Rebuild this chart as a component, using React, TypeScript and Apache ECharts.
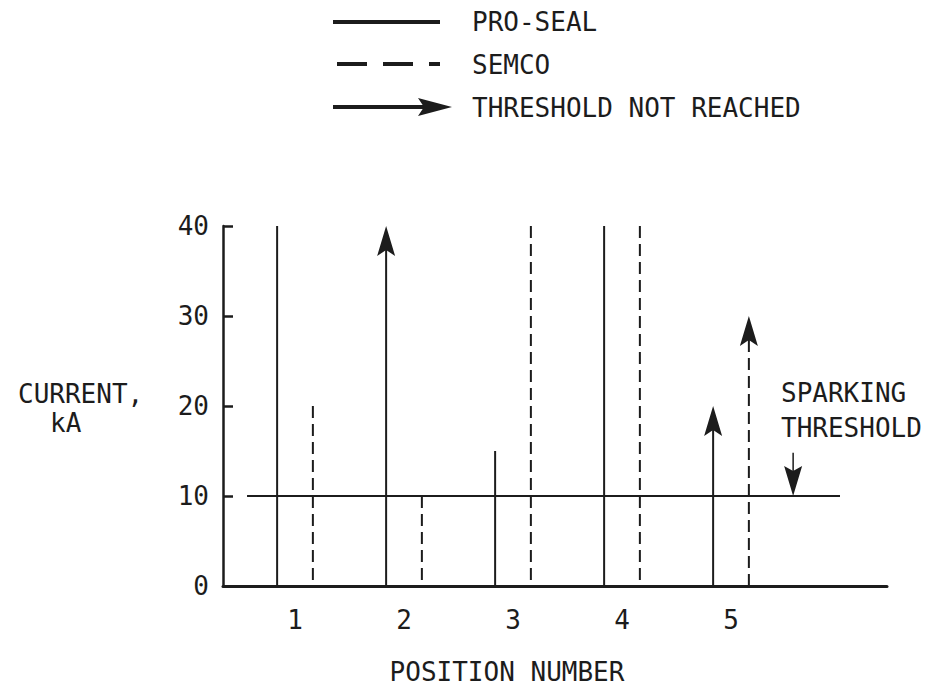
import React, { useEffect, useRef } from "react";
import * as echarts from "echarts";

// ---- data ----
const positions = [1, 2, 3, 4, 5];
const proSeal = [40, 40, 15, 40, 20];
const proSealReached = [true, false, true, true, false];
const semco = [20, 10, 40, 40, 30];
const semcoReached = [true, true, true, true, false];
const yTicks = [0, 10, 20, 30, 40];
const sparkingThreshold = 10;
const thresholdSpan = [0.56, 6.0];
const sparkingMarker = [5.57, 14.8];

const FONT = "'DejaVu Sans Mono', monospace";
const INK = "#1c1c1c";
const OFFSET = 0.164;

function vertRender(dashed: boolean) {
  return (params: any, api: any) => {
    const x = api.value(0);
    const v = api.value(1);
    const reached = api.value(2) === 1;
    const base = api.coord([x, 0]);
    const top = api.coord([x, v]);
    const style: any = { stroke: INK, lineWidth: 2 };
    if (dashed) style.lineDash = [12, 6];
    const children: any[] = [];
    const headLen = 30;
    const shaftTop = reached ? top[1] : top[1] + headLen - 6;
    children.push({
      type: "line",
      shape: { x1: top[0], y1: shaftTop, x2: base[0], y2: base[1] },
      style,
    });
    if (!reached) {
      children.push({
        type: "polygon",
        shape: {
          points: [
            [top[0], top[1]],
            [top[0] - 9, top[1] + headLen],
            [top[0], top[1] + headLen - 6],
            [top[0] + 9, top[1] + headLen],
          ],
        },
        style: { fill: INK },
      });
    }
    return { type: "group", children };
  };
}

export default function App() {
  const ref = useRef<HTMLDivElement>(null);
  useEffect(() => {
    if (!ref.current) return;
    const chart = echarts.init(ref.current, null, { renderer: "svg" });
    const option: any = {
      animation: false,
      backgroundColor: "#ffffff",
      grid: { left: 223, right: 48, top: 226, bottom: 104 },
      xAxis: {
        type: "value",
        min: 1 - 72 / 109,
        max: 1 + 592 / 109,
        splitLine: { show: false },
        axisLine: { show: true, onZero: false, lineStyle: { color: INK, width: 3 } },
        axisTick: { show: false },
        axisLabel: {
          customValues: positions,
          formatter: (v: number) => String(v),
          fontFamily: FONT,
          fontSize: 26,
          color: INK,
          margin: 21,
        },
      },
      yAxis: {
        type: "value",
        min: 0,
        max: 40,
        interval: 10,
        splitLine: { show: false },
        axisLine: { show: true, lineStyle: { color: INK, width: 2.5 } },
        axisTick: { show: true, inside: true, length: 10, lineStyle: { color: INK, width: 2.5 } },
        axisLabel: {
          customValues: yTicks,
          fontFamily: FONT,
          fontSize: 26,
          color: INK,
          margin: 14,
        },
      },
      series: [
        {
          type: "line",
          data: [
            [thresholdSpan[0], sparkingThreshold],
            [thresholdSpan[1], sparkingThreshold],
          ],
          symbol: "none",
          lineStyle: { color: INK, width: 2 },
          z: 1,
        },
        {
          type: "custom",
          clip: false,
          renderItem: vertRender(false),
          encode: { x: 0, y: 1 },
          data: positions.map((p, i) => [p - OFFSET, proSeal[i], proSealReached[i] ? 1 : 0]),
          z: 2,
        },
        {
          type: "custom",
          clip: false,
          renderItem: vertRender(true),
          encode: { x: 0, y: 1 },
          data: positions.map((p, i) => [p + OFFSET, semco[i], semcoReached[i] ? 1 : 0]),
          z: 2,
        },
        {
          type: "custom",
          clip: false,
          encode: { x: 0, y: 1 },
          data: [[sparkingMarker[0], sparkingMarker[1], sparkingThreshold]],
          renderItem: (params: any, api: any) => {
            const x = api.value(0);
            const top = api.coord([x, api.value(1)]);
            const tip = api.coord([x, api.value(2)]);
            return {
              type: "group",
              children: [
                {
                  type: "line",
                  shape: { x1: top[0], y1: top[1], x2: tip[0], y2: tip[1] - 20 },
                  style: { stroke: INK, lineWidth: 1.5 },
                },
                {
                  type: "polygon",
                  shape: {
                    points: [
                      [tip[0], tip[1]],
                      [tip[0] - 9, tip[1] - 30],
                      [tip[0], tip[1] - 25],
                      [tip[0] + 9, tip[1] - 30],
                    ],
                  },
                  style: { fill: INK },
                },
              ],
            };
          },
        },
      ],
      graphic: [
        // legend
        { type: "line", shape: { x1: 333, y1: 22, x2: 440, y2: 22 }, style: { stroke: INK, lineWidth: 4 } },
        { type: "text", x: 472, y: 22, style: { text: "PRO-SEAL", font: `26px ${FONT}`, fill: INK, verticalAlign: "middle" } },
        { type: "line", shape: { x1: 337, y1: 64, x2: 440, y2: 64 }, style: { stroke: INK, lineWidth: 4, lineDash: [30, 16] } },
        { type: "text", x: 472, y: 65, style: { text: "SEMCO", font: `26px ${FONT}`, fill: INK, verticalAlign: "middle" } },
        { type: "line", shape: { x1: 333, y1: 107, x2: 428, y2: 107 }, style: { stroke: INK, lineWidth: 4 } },
        {
          type: "polygon",
          shape: { points: [[452, 107], [418, 98], [424, 107], [418, 116]] },
          style: { fill: INK },
        },
        { type: "text", x: 472, y: 108, style: { text: "THRESHOLD NOT REACHED", font: `26px ${FONT}`, fill: INK, verticalAlign: "middle" } },
        // y axis title
        { type: "text", x: 18, y: 394, style: { text: "CURRENT,", font: `26px ${FONT}`, fill: INK, verticalAlign: "middle" } },
        { type: "text", x: 50, y: 423, style: { text: "kA", font: `26px ${FONT}`, fill: INK, verticalAlign: "middle" } },
        // x axis title
        { type: "text", x: 507, y: 672, style: { text: "POSITION NUMBER", font: `26px ${FONT}`, fill: INK, align: "center", verticalAlign: "middle" } },
        // sparking threshold label
        { type: "text", x: 781, y: 393, style: { text: "SPARKING", font: `26px ${FONT}`, fill: INK, verticalAlign: "middle" } },
        { type: "text", x: 781, y: 428, style: { text: "THRESHOLD", font: `26px ${FONT}`, fill: INK, verticalAlign: "middle" } },
      ],
    };
    chart.setOption(option);
    return () => chart.dispose();
  }, []);
  return <div ref={ref} style={{ width: 935, height: 690, position: "absolute", left: 0, top: 0 }} />;
}
